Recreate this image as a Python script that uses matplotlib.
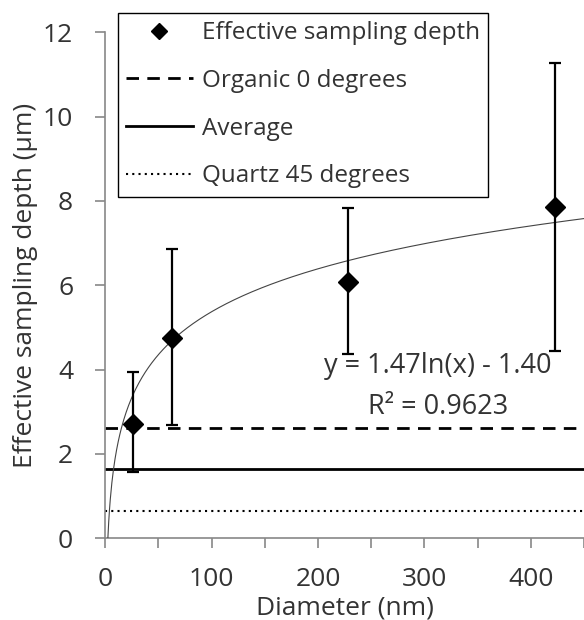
import numpy as np
import matplotlib
matplotlib.use("Agg")
import matplotlib.pyplot as plt
from matplotlib.lines import Line2D

# --- data ---
diameter = [26, 63, 228, 423]
depth = [2.70, 4.75, 6.07, 7.85]
err_low = [1.56, 2.68, 4.36, 4.45]
err_high = [3.93, 6.87, 7.82, 11.28]

organic_0 = 2.61
average = 1.63
quartz_45 = 0.64

fit_slope = 1.47
fit_intercept = -1.40
fit_label = "y = 1.47ln(x) - 1.40\nR² = 0.9623"

legend_labels = ['Effective sampling depth', 'Organic 0 degrees', 'Average', 'Quartz 45 degrees']

plt.rcParams['font.family'] = ['Open Sans', 'DejaVu Sans']
TXT = '#333333'

fig = plt.figure(figsize=(5.84, 6.2), dpi=100)
ax = fig.add_axes([0.18, 0.132, 0.82, 0.816])

lower = np.array(depth) - np.array(err_low)
upper = np.array(err_high) - np.array(depth)
ax.errorbar(diameter, depth, yerr=[lower, upper], fmt='D', color='black',
            ms=10, elinewidth=1.6, capsize=4, capthick=1.6, zorder=5)

dash = (0, (4.5, 3))
dot = (0, (1, 2))
ax.axhline(organic_0, color='black', ls=dash, lw=2)
ax.axhline(average, color='black', ls='-', lw=2)
ax.axhline(quartz_45, color='black', ls=dot, lw=1.5)

xs = np.linspace(2.6, 450, 600)
ax.plot(xs, fit_slope * np.log(xs) + fit_intercept, color='#444444', lw=0.8, zorder=3)

ax.text(313, 3.6, fit_label, ha='center', va='center', fontsize=19.5, color=TXT,
        linespacing=1.62)

ax.set_xlim(0, 450)
ax.set_ylim(0, 12)
ax.set_xticks(np.arange(0, 451, 50))
ax.set_xticklabels([str(v) if v % 100 == 0 else '' for v in range(0, 451, 50)])
ax.set_yticks(np.arange(0, 13, 2))

for side in ['top', 'right']:
    ax.spines[side].set_visible(False)
for side in ['left', 'bottom']:
    ax.spines[side].set_color('#888888')
    ax.spines[side].set_linewidth(1.2)
ax.tick_params(direction='out', length=7, width=1.2, color='#888888',
               labelsize=19, labelcolor=TXT)
ax.tick_params(axis='x', pad=14)
ax.tick_params(axis='y', pad=16)

ax.set_xlabel('Diameter (nm)', fontsize=19, color=TXT)
ax.xaxis.set_label_coords(0.5, -0.113)
ax.set_ylabel('Effective sampling depth (µm)', fontsize=19, color=TXT)
ax.yaxis.set_label_coords(-0.14, 0.5)

handles = [
    Line2D([], [], marker='D', ls='none', color='black', ms=8),
    Line2D([], [], color='black', ls=dash, lw=2),
    Line2D([], [], color='black', ls='-', lw=2),
    Line2D([], [], color='black', ls=dot, lw=1.5),
]
leg = fig.legend(handles, legend_labels, loc='upper left',
                 bbox_to_anchor=(118 / 584, 1 - 13 / 620), fontsize=17.5,
                 frameon=True, fancybox=False, edgecolor='black', framealpha=1,
                 handlelength=2.75, handletextpad=0.37, labelspacing=0.98,
                 borderpad=0.33, borderaxespad=0)
leg.get_frame().set_linewidth(1.0)
for t in leg.get_texts():
    t.set_color(TXT)

fig.savefig('out.png', dpi=100)
